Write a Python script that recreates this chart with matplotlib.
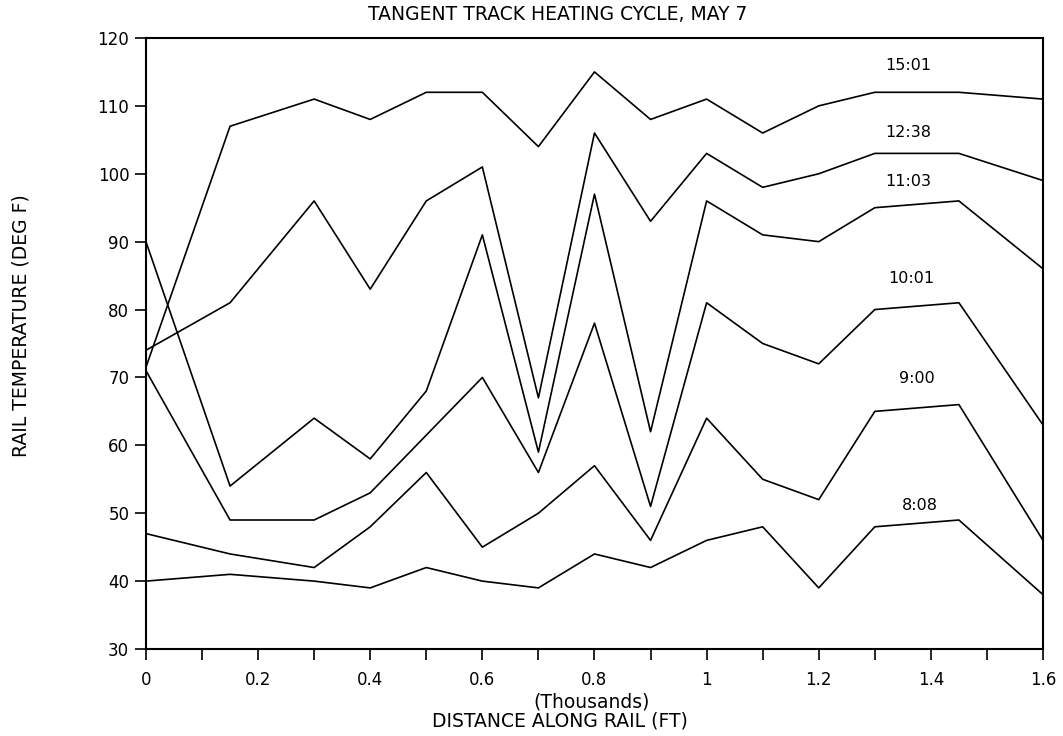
import matplotlib
matplotlib.use("Agg")
import matplotlib.pyplot as plt
from matplotlib.ticker import MultipleLocator

# distance along rail (thousands of ft)
dist = [0, 0.15, 0.3, 0.4, 0.5, 0.6, 0.7, 0.8, 0.9, 1.0, 1.1, 1.2, 1.3, 1.45, 1.6]

# rail temperature (deg F) per reading time
t1501 = [71.5, 107, 111, 108, 112, 112, 104, 115, 108, 111, 106, 110, 112, 112, 111]
t1238 = [74, 81, 96, 83, 96, 101, 67, 106, 93, 103, 98, 100, 103, 103, 99]
t1103 = [90, 54, 64, 58, 68, 91, 59, 97, 62, 96, 91, 90, 95, 96, 86]
t1001 = [71, 49, 49, 53, 61.5, 70, 56, 78, 51, 81, 75, 72, 80, 81, 63]
t0900 = [47, 44, 42, 48, 56, 45, 50, 57, 46, 64, 55, 52, 65, 66, 46]
t0808 = [40, 41, 40, 39, 42, 40, 39, 44, 42, 46, 48, 39, 48, 49, 38]

series = [t1501, t1238, t1103, t1001, t0900, t0808]
names = ["15:01", "12:38", "11:03", "10:01", "9:00", "8:08"]
label_y = [116, 106.1, 98.9, 84.6, 69.8, 51.1]
label_x = [1.36, 1.36, 1.36, 1.365, 1.375, 1.38]

plt.rcParams["font.family"] = ["DejaVu Sans"]

fig = plt.figure(figsize=(10.63, 7.36), dpi=100)
ax = fig.add_axes([0.1373, 0.1182, 0.8439, 0.8302])

for vals in series:
    ax.plot(dist, vals, color="black", linewidth=1.2)

for name, lx, ly in zip(names, label_x, label_y):
    ax.text(lx, ly, name, fontsize=11.5, ha="center", va="center")

ax.set_xlim(0, 1.6)
ax.set_ylim(30, 120)
ax.xaxis.set_minor_locator(MultipleLocator(0.1))
ax.yaxis.set_major_locator(MultipleLocator(10))
ax.set_xticks([0, 0.2, 0.4, 0.6, 0.8, 1.0, 1.2, 1.4, 1.6])
ax.set_xticklabels(["0", "0.2", "0.4", "0.6", "0.8", "1", "1.2", "1.4", "1.6"])

ax.tick_params(axis="both", which="both", direction="out", length=8, width=1.2,
               labelsize=12)
ax.tick_params(axis="x", which="both", pad=8)
ax.tick_params(axis="y", pad=4)
for sp in ax.spines.values():
    sp.set_linewidth(1.5)

# axis titles placed by hand, like the original plotter output
fig.text(592 / 1063, 1 - 702 / 736, "(Thousands)", fontsize=13.5,
         ha="center", va="center")
fig.text(560 / 1063, 1 - 721 / 736, "DISTANCE ALONG RAIL (FT)", fontsize=13.5,
         ha="center", va="center")
fig.text(558 / 1063, 1 - 15 / 736, "TANGENT TRACK HEATING CYCLE, MAY 7",
         fontsize=13.5, ha="center", va="center")
fig.text(21 / 1063, 1 - 326 / 736, "RAIL TEMPERATURE (DEG F)", fontsize=13.5,
         rotation=90, ha="center", va="center")

fig.savefig("out.png", dpi=100)
